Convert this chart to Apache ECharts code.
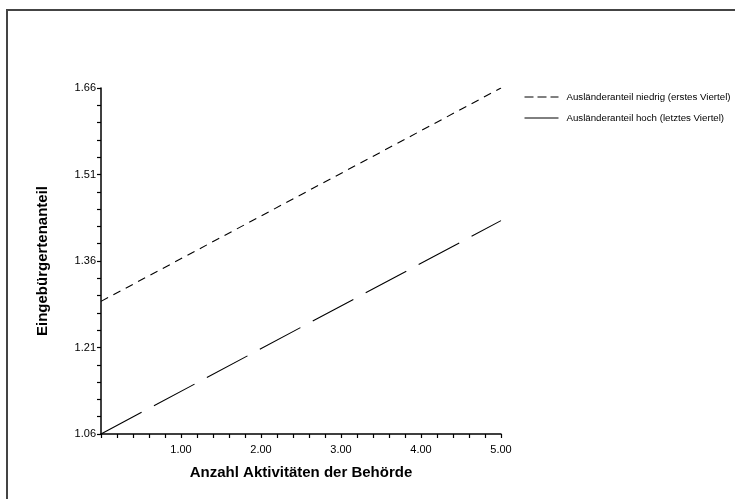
<!DOCTYPE html>
<html>
<head>
<meta charset="utf-8">
<script src="https://cdn.jsdelivr.net/npm/echarts@6/dist/echarts.min.js"></script>
<style>
  html, body { margin: 0; padding: 0; background: #fff; }
  #chart { width: 735px; height: 499px; }
</style>
</head>
<body>
<div id="chart"></div>
<script>
const seriesNames = ["Ausländeranteil niedrig (erstes Viertel)", "Ausländeranteil hoch (letztes Viertel)"];
const xPoints = [0, 5];
const niedrigValues = [1.29, 1.66];
const hochValues = [1.06, 1.43];
const yLabelValues = [1.06, 1.21, 1.36, 1.51, 1.66];
const yTickValues = [1.06, 1.09, 1.12, 1.15, 1.18, 1.21, 1.24, 1.27, 1.30, 1.33, 1.36,
  1.39, 1.42, 1.45, 1.48, 1.51, 1.54, 1.57, 1.60, 1.63, 1.66];
const xLabelValues = [1, 2, 3, 4, 5];
const xTickValues = [0, 0.2, 0.4, 0.6, 0.8, 1, 1.2, 1.4, 1.6, 1.8, 2, 2.2, 2.4, 2.6, 2.8,
  3, 3.2, 3.4, 3.6, 3.8, 4, 4.2, 4.4, 4.6, 4.8, 5];

const font = "Liberation Sans, Arial, sans-serif";
const chart = echarts.init(document.getElementById("chart"));

const option = {
  animation: false,
  backgroundColor: "#fff",
  textStyle: { fontFamily: font },
  grid: { left: 101, right: 234, top: 88, bottom: 65 },
  legend: {
    orient: "vertical",
    left: 519,
    top: 86,
    itemWidth: 34,
    itemHeight: 10,
    itemGap: 9,
    textStyle: { fontSize: 9.7, color: "#000", fontFamily: font, padding: [0, 0, 0, 3], lineHeight: 12 },
    data: [
      { name: seriesNames[0], itemStyle: { opacity: 0 }, lineStyle: { type: [9, 4], width: 1, color: "#000" } },
      { name: seriesNames[1], itemStyle: { opacity: 0 }, lineStyle: { type: "solid", width: 1, color: "#000" } }
    ]
  },
  xAxis: {
    type: "value",
    min: 0,
    max: 5,
    name: "Anzahl Aktivitäten der Behörde",
    nameLocation: "middle",
    nameGap: 31,
    nameTextStyle: { fontSize: 15, fontWeight: "bold", color: "#000", fontFamily: font },
    axisLine: { show: true, onZero: false, lineStyle: { color: "#000", width: 1.5 } },
    axisTick: { show: true, length: 4, customValues: xTickValues, lineStyle: { color: "#000", width: 1.2 } },
    axisLabel: {
      customValues: xLabelValues,
      margin: 10,
      fontSize: 11,
      color: "#000",
      formatter: (v) => v.toFixed(2)
    },
    splitLine: { show: false }
  },
  yAxis: {
    type: "value",
    min: 1.06,
    max: 1.66,
    name: "Eingebürgertenanteil",
    nameLocation: "middle",
    nameGap: 51,
    nameTextStyle: { fontSize: 15, fontWeight: "bold", color: "#000", fontFamily: font },
    axisLine: { show: true, onZero: false, lineStyle: { color: "#000", width: 1.5 } },
    axisTick: { show: true, length: 4, customValues: yTickValues, lineStyle: { color: "#000", width: 1.2 } },
    axisLabel: {
      customValues: yLabelValues,
      margin: 5,
      fontSize: 11,
      color: "#000",
      formatter: (v) => v.toFixed(2)
    },
    splitLine: { show: false }
  },
  series: [
    {
      name: seriesNames[0],
      type: "line",
      symbol: "none",
      lineStyle: { color: "#000", width: 1.1, type: [8, 6] },
      itemStyle: { color: "#000" },
      data: xPoints.map((x, i) => [x, niedrigValues[i]])
    },
    {
      name: seriesNames[1],
      type: "line",
      symbol: "none",
      lineStyle: { color: "#000", width: 1.1, type: [46, 14] },
      itemStyle: { color: "#000" },
      data: xPoints.map((x, i) => [x, hochValues[i]])
    }
  ],
  graphic: [
    {
      type: "polyline",
      shape: { points: [[7, 499], [7, 10], [735, 10]] },
      style: { stroke: "#444", lineWidth: 2, fill: null }
    }
  ]
};

chart.setOption(option);
window.addEventListener("resize", () => {
  chart.resize();
});
</script>
</body>
</html>
